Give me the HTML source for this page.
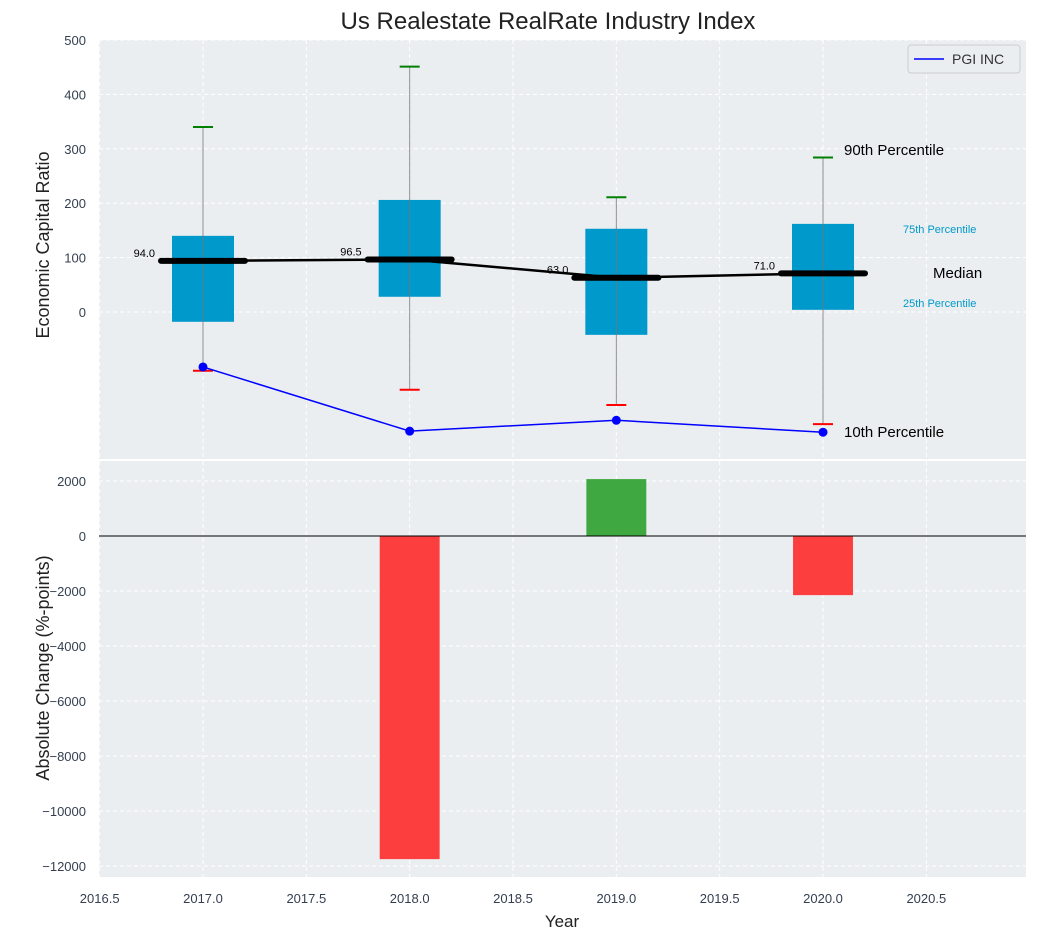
<!DOCTYPE html>
<html><head><meta charset="utf-8"><style>
body{margin:0;background:#fff;font-family:"Liberation Sans",Arial,sans-serif;}
svg text{font-family:"Liberation Sans",Arial,sans-serif;}
</style></head><body>
<svg id="c" width="1038" height="940" xmlns="http://www.w3.org/2000/svg"></svg>
<script>
const years=[2017,2018,2019,2020];
const q1=[-18,28,-42,4];
const q3=[140,206,153,162];
const medians=[94,96.5,63,71];
const p10=[-108,-143,-171,-206];
const p90=[340,451,211,284];
const pgi=[-101,-219,-199,-221];
const changes=[0,-11750,2070,-2150];
const xTicks=[2016.5,2017,2017.5,2018,2018.5,2019,2019.5,2020,2020.5];
const yTopTicks=[0,100,200,300,400,500];
const yBotTicks=[2000,0,-2000,-4000,-6000,-8000,-10000,-12000];

const NS="http://www.w3.org/2000/svg";
const svg=document.getElementById('c');
function el(t,a,txt){const e=document.createElementNS(NS,t);for(const k in a)e.setAttribute(k,a[k]);if(txt!==undefined)e.textContent=txt;svg.appendChild(e);return e;}
const L=99,R=1026;
const X=v=>203+(v-2017)*206.67;
const T0=40,T1=459,B0=461,B1=877;
const YT=v=>312-v*0.544;
const YB=v=>536-v*0.0275;

let e;
e=el('rect',{x:L,y:T0,width:R-L,height:T1-T0,fill:'#eaeef0'});

e=el('rect',{x:L,y:B0,width:R-L,height:B1-B0,fill:'#eaeef0'});

xTicks.forEach(t=>{
 el('line',{x1:X(t),x2:X(t),y1:T0,y2:T1,stroke:'#fff','stroke-dasharray':'4,3','stroke-width':1});
 el('line',{x1:X(t),x2:X(t),y1:B0,y2:B1,stroke:'#fff','stroke-dasharray':'4,3','stroke-width':1});
 e=el('text',{x:X(t),y:903,'text-anchor':'middle','font-size':13,fill:'#333f50'},t.toFixed(1));
 
});
yTopTicks.forEach(t=>{
 el('line',{x1:L,x2:R,y1:YT(t),y2:YT(t),stroke:'#fff','stroke-dasharray':'4,3'});
 e=el('text',{x:86,y:YT(t)+5,'text-anchor':'end','font-size':13,fill:'#333f50'},t);
 
});
yBotTicks.forEach(t=>{
 el('line',{x1:L,x2:R,y1:YB(t),y2:YB(t),stroke:'#fff','stroke-dasharray':'4,3'});
 e=el('text',{x:86,y:YB(t)+5,'text-anchor':'end','font-size':13,fill:'#333f50'},t<0?'\u2212'+(-t):t);
 
});
years.forEach((y,i)=>{
 const cx=X(y),hw=0.15*206.67;
 e=el('rect',{x:cx-hw,y:YT(q3[i]),width:2*hw,height:YT(q1[i])-YT(q3[i]),fill:'#0099cc'});
 
 el('line',{x1:cx,x2:cx,y1:YT(p90[i]),y2:YT(p10[i]),stroke:'#777','stroke-width':1,opacity:0.8});
 el('line',{x1:cx-10,x2:cx+10,y1:YT(p90[i]),y2:YT(p90[i]),stroke:'green','stroke-width':2});
 el('line',{x1:cx-10,x2:cx+10,y1:YT(p10[i]),y2:YT(p10[i]),stroke:'red','stroke-width':2});
});
e=el('polyline',{points:years.map((y,i)=>X(y)+','+YT(medians[i])).join(' '),fill:'none',stroke:'#000','stroke-width':2.5});

years.forEach((y,i)=>{
 const cx=X(y);
 e=el('line',{x1:cx-42,x2:cx+42,y1:YT(medians[i]),y2:YT(medians[i]),stroke:'#000','stroke-width':6,'stroke-linecap':'round'});
 
 e=el('text',{x:cx-48,y:YT(medians[i])-4,'text-anchor':'end','font-size':11,fill:'#000'},medians[i].toFixed(1));
 
});
e=el('polyline',{points:years.map((y,i)=>X(y)+','+YT(pgi[i])).join(' '),fill:'none',stroke:'blue','stroke-width':1.5});

years.forEach((y,i)=>{e=el('circle',{cx:X(y),cy:YT(pgi[i]),r:4.5,fill:'blue'});});
const ann=[[844,155,'90th Percentile',15,'#000'],[903,233,'75th Percentile',11,'#0099cc'],[933,278,'Median',15,'#000'],[903,307,'25th Percentile',11,'#0099cc'],[844,437,'10th Percentile',15,'#000']];
ann.forEach(a=>{e=el('text',{x:a[0],y:a[1],'font-size':a[3],fill:a[4]},a[2]);});
e=el('rect',{x:908,y:45,width:112,height:28,fill:'#eaeef0',stroke:'#ccc',rx:3});

el('line',{x1:914,x2:944,y1:59,y2:59,stroke:'blue','stroke-width':1.5});
e=el('text',{x:952,y:64,'font-size':14,fill:'#333'},'PGI INC');

years.forEach((y,i)=>{
 const v=changes[i];if(v===0)return;
 const hw=0.145*206.67;
 e=el('rect',{x:X(y)-hw,y:Math.min(YB(0),YB(v)),width:2*hw,height:Math.abs(YB(v)-YB(0)),fill:v>0?'#2ca02c':'#ff2a2a',opacity:0.9});
 
});
el('line',{x1:L,x2:R,y1:YB(0),y2:YB(0),stroke:'#000','stroke-width':1});
e=el('text',{x:548,y:29,'text-anchor':'middle','font-size':24,fill:'#222'},'Us Realestate RealRate Industry Index');

e=el('text',{x:562,y:927,'text-anchor':'middle','font-size':17,fill:'#222'},'Year');

e=el('text',{x:0,y:0,'text-anchor':'middle','font-size':18,fill:'#222',transform:'translate(49,245) rotate(-90)'},'Economic Capital Ratio');

e=el('text',{x:0,y:0,'text-anchor':'middle','font-size':18,fill:'#222',transform:'translate(49,668) rotate(-90)'},'Absolute Change (%-points)');

</script>
</body></html>
